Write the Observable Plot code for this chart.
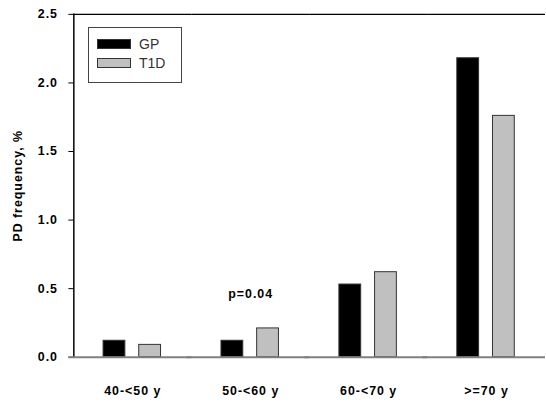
<!DOCTYPE html>
<html>
<head>
<meta charset="utf-8">
<script src="https://cdn.jsdelivr.net/npm/d3@7"></script>
<script src="https://cdn.jsdelivr.net/npm/@observablehq/plot@0.6"></script>
<style>
  html, body { margin: 0; padding: 0; background: #fff; }
  #wrap { position: relative; width: 546px; height: 403px; overflow: hidden; }
  #legend { position: absolute; left: 88px; top: 27px; width: 92px; height: 54px;
    border: 1.5px solid #444; background: #fff; font-family: "Liberation Sans", Arial, sans-serif;
    font-size: 14px; color: #333; }
  .row { position: absolute; left: 8px; display: flex; align-items: center; }
  .sw { width: 32px; height: 8px; border: 1px solid #333; margin-right: 8px; }
</style>
</head>
<body>
<div id="wrap"></div>
<script>
const categories = ["40-<50 y", "50-<60 y", "60-<70 y", ">=70 y"];
const series = ["GP", "T1D"];
const gpValues = [0.12, 0.12, 0.53, 2.18];
const t1dValues = [0.09, 0.21, 0.62, 1.76];
const seriesColors = ["#000000", "#c0c0c0"];
const yTicks = [0, 0.5, 1.0, 1.5, 2.0, 2.5];
const annotations = [{cat: "50-<60 y", y: 0.46, text: "p=0.04"}];

const data = [];
categories.forEach((c, i) => {
  data.push({cat: c, series: "GP", value: gpValues[i]});
  data.push({cat: c, series: "T1D", value: t1dValues[i]});
});

const chart = Plot.plot({
  width: 551,
  height: 403,
  marginTop: 14,
  marginBottom: 43,
  marginLeft: 72,
  marginRight: 0,
  style: {fontFamily: "'Liberation Sans', Arial, sans-serif", fontSize: "12.5px", fontWeight: "bold", letterSpacing: "1px", color: "#000", background: "#fff"},
  fx: {domain: categories, padding: 0, label: null, tickSize: 0, tickPadding: 29, axis: "bottom"},
  x: {domain: series, paddingInner: 0.38, paddingOuter: 0.82, axis: null},
  y: {domain: [0, 2.5], ticks: yTicks, tickFormat: ".1f", tickSize: 5, tickPadding: 11,
      label: "PD frequency, %", labelAnchor: "center", labelArrow: "none", labelOffset: 61},
  color: {domain: series, range: seriesColors},
  marks: [
    Plot.ruleY([2.5], {stroke: "#000", strokeWidth: 1.2}),
    Plot.frame({anchor: "left", facetAnchor: "left", stroke: "#000", strokeWidth: 1.5}),
    Plot.barY(data, {fx: "cat", x: "series", y: "value", fill: "series", stroke: "#333", strokeWidth: 1}),
    Plot.ruleY([0], {stroke: "#808080", strokeWidth: 2, insetLeft: -5}),
    Plot.text(annotations, {fx: "cat", y: "y", text: "text", fontSize: 12.5, fontWeight: "bold"})
  ]
});
document.getElementById("wrap").appendChild(chart);

const legend = document.createElement("div");
legend.id = "legend";
series.forEach((s, i) => {
  const row = document.createElement("div");
  row.className = "row";
  row.style.top = (8 + i * 19) + "px";
  const sw = document.createElement("div");
  sw.className = "sw";
  sw.style.background = seriesColors[i];
  const t = document.createElement("span");
  t.textContent = s;
  row.appendChild(sw); row.appendChild(t);
  legend.appendChild(row);
});
document.getElementById("wrap").appendChild(legend);
</script>
</body>
</html>
